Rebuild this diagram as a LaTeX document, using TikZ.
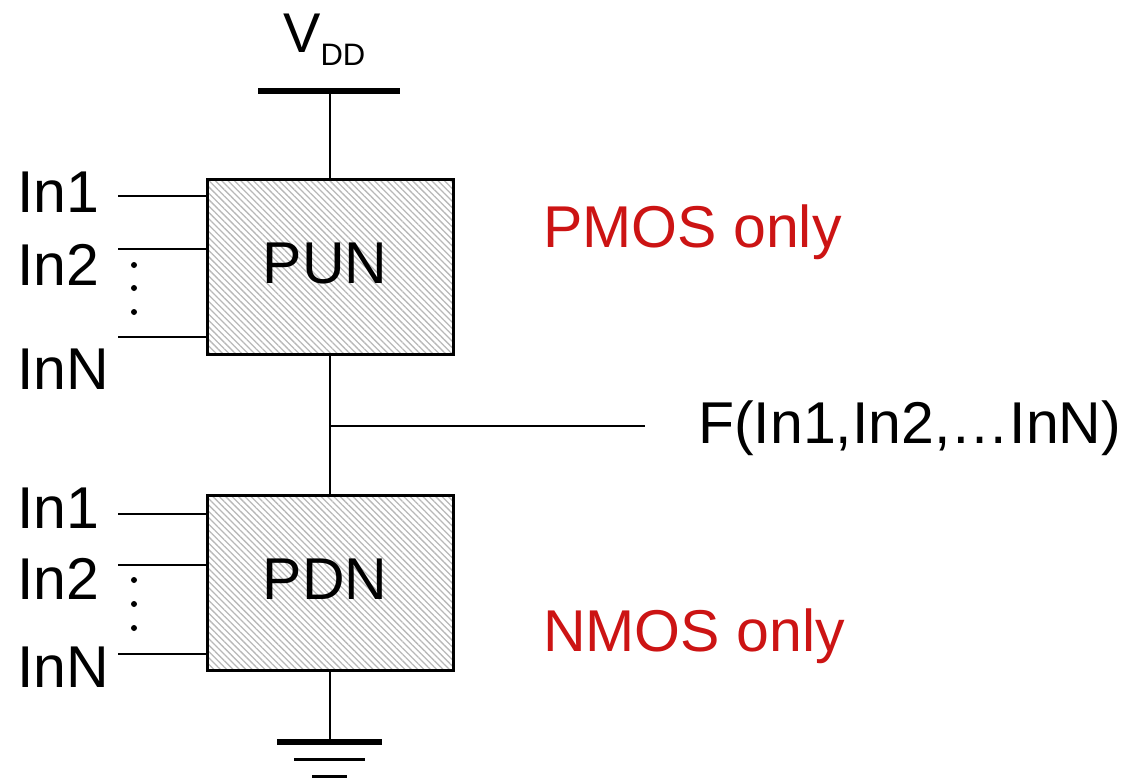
\documentclass[tikz,border=0pt]{standalone}
\usepackage{fontspec}
\setmainfont{Liberation Sans}
\usetikzlibrary{patterns.meta}
\definecolor{lblred}{RGB}{204,20,20}
\tikzset{
  netbox/.style={draw=black, line width=3pt, pattern={Lines[angle=-45, distance=4.5pt, line width=1.3pt]}, pattern color=black!28, minimum width=246pt, minimum height=175pt, inner sep=0pt},
  wire/.style={line width=2.5pt},
  lbl/.style={font=\fontsize{59}{59}\selectfont, inner sep=0pt},
  redlbl/.style={lbl, text=lblred},
  dotmark/.style={fill=black, circle, inner sep=0pt, minimum size=6pt},
}
\begin{document}
\begin{tikzpicture}[x=1pt,y=-1pt]
\useasboundingbox (0,0) rectangle (1129,780);
% boxes
\node[netbox] (pun) at (330,266.5) {};
\node[lbl, anchor=base] at (325,283) {PUN};
\node[netbox] (pdn) at (330,582.5) {};
\node[lbl, anchor=base] at (325,599) {PDN};
% VDD
\coordinate (vddl) at (258,91);
\coordinate (vddr) at (400,91);
\coordinate (vdd) at (330,91);
\draw[line width=6pt] (vddl) -- (vddr);
\draw[wire] (vdd) -- (pun.north);
\node[inner sep=0pt, anchor=base west, font=\fontsize{56}{56}\selectfont] (vddlbl) at (283,52) {V\raisebox{-13pt}{\fontsize{31}{31}\selectfont DD}};
% middle
\draw[wire] (pun.south) -- (pdn.north);
\coordinate (fj) at (330,426);
\coordinate (fo) at (645,426);
\draw[wire] (fj) -- (fo);
\node[lbl, anchor=base west] (flbl) at (698,443) {F(In1,In2,…InN)};
% ground
\coordinate (gnd) at (330,742);
\draw[wire] (pdn.south) -- (gnd);
\coordinate (g1l) at (277,742); \coordinate (g1r) at (382,742);
\coordinate (g2l) at (294,759); \coordinate (g2r) at (365,759);
\coordinate (g3l) at (312,776); \coordinate (g3r) at (347,776);
\draw[line width=6pt] (g1l) -- (g1r);
\draw[line width=3pt] (g2l) -- (g2r);
\draw[line width=3pt] (g3l) -- (g3r);
% PUN inputs
\coordinate (pa) at (118,196);
\coordinate (pb) at (118,249);
\coordinate (pc) at (118,337);
\draw[wire] (pa) -- (pa -| pun.west);
\draw[wire] (pb) -- (pb -| pun.west);
\draw[wire] (pc) -- (pc -| pun.west);
\node[lbl, anchor=base west] (la) at (17,212) {In1};
\node[lbl, anchor=base west] (lb) at (17,285) {In2};
\node[lbl, anchor=base west] (lc) at (17,389) {InN};
\node[dotmark] (d1) at (134,265) {};
\node[dotmark] (d2) at (134,288) {};
\node[dotmark] (d3) at (134,312) {};
% PDN inputs
\coordinate (na) at (118,514);
\coordinate (nb) at (118,565);
\coordinate (nc) at (118,654);
\draw[wire] (na) -- (na -| pdn.west);
\draw[wire] (nb) -- (nb -| pdn.west);
\draw[wire] (nc) -- (nc -| pdn.west);
\node[lbl, anchor=base west] (ma) at (17,528) {In1};
\node[lbl, anchor=base west] (mb) at (17,599) {In2};
\node[lbl, anchor=base west] (mc) at (17,687) {InN};
\node[dotmark] (e1) at (134,580) {};
\node[dotmark] (e2) at (134,604) {};
\node[dotmark] (e3) at (134,628) {};
% labels
\node[redlbl, anchor=base west] (pmos) at (543,247) {PMOS only};
\node[redlbl, anchor=base west] (nmos) at (543,651) {NMOS only};
\end{tikzpicture}
\end{document}
